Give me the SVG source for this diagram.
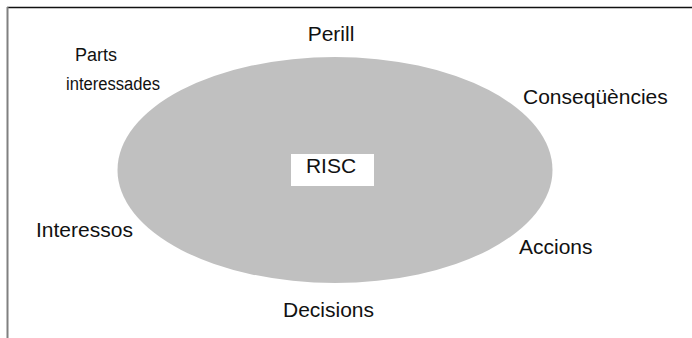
<svg xmlns="http://www.w3.org/2000/svg" width="692" height="338" viewBox="0 0 692 338">
  <style>
    .lbl { font-family: "Liberation Sans", Arial, Helvetica, sans-serif; font-size: 21px; fill: #111; }
    .sm { font-size: 18px; }
  </style>
  <rect width="692" height="338" fill="#fff"/>
  <!-- frame: top rule and left rule -->
  <g id="frame">
    <line x1="7" y1="7.5" x2="692" y2="7.5" stroke="#111" stroke-width="1.3"/>
    <line x1="7.5" y1="7" x2="7.5" y2="338" stroke="#808080" stroke-width="2"/>
  </g>
  <g id="risc">
    <ellipse cx="335" cy="170" rx="217.5" ry="113" fill="#c0c0c0"/>
    <rect x="291" y="154" width="83" height="32" fill="#fff"/>
    <text class="lbl" x="331" y="173" text-anchor="middle">RISC</text>
  </g>
  <g id="perill"><text class="lbl" x="331" y="41" text-anchor="middle">Perill</text></g>
  <g id="parts-interessades">
    <text class="lbl sm" x="75" y="61">Parts</text>
    <text class="lbl sm" x="66" y="90" textLength="94" lengthAdjust="spacingAndGlyphs">interessades</text>
  </g>
  <g id="consequencies"><text class="lbl" x="523" y="104">Conseqüències</text></g>
  <g id="interessos"><text class="lbl" x="36" y="237">Interessos</text></g>
  <g id="accions"><text class="lbl" x="519" y="254">Accions</text></g>
  <g id="decisions"><text class="lbl" x="283" y="317">Decisions</text></g>
</svg>
